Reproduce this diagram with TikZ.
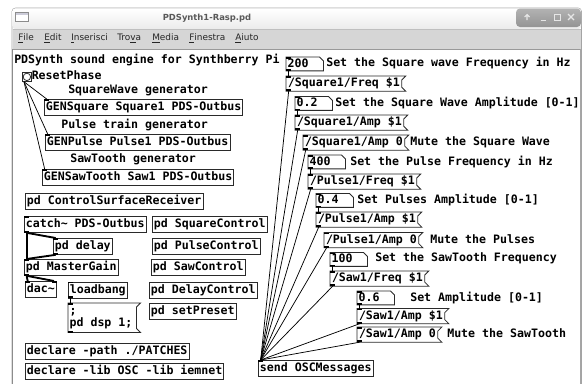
\documentclass[tikz,border=0pt]{standalone}
\usepackage{fontspec}
\newfontfamily\pdfont{DejaVu Sans Mono}
\newfontfamily\uifont{DejaVu Sans}
\definecolor{pdline}{HTML}{2A2A2A}
\definecolor{menubg}{HTML}{D6D6D6}
\definecolor{framec}{HTML}{A4A4A4}
\definecolor{btnbg}{HTML}{A2A2A2}
\definecolor{iconc}{HTML}{E6E6E6}
\newcommand\msgflag[1]{\draw[boxline] (#1.north west) -- ([xshift=3pt]#1.north east) -- ([yshift=-3pt]#1.north east) -- ([yshift=3pt]#1.south east) -- ([xshift=3pt]#1.south east) -- (#1.south west) -- cycle;}
\newcommand\numflag[1]{\draw[boxline] (#1.north west) -- ([xshift=-3pt]#1.north east) -- ([yshift=-3pt]#1.north east) -- (#1.south east) -- (#1.south west) -- cycle;}
\newcommand\pdin[1]{\fill[io] (#1.north west) rectangle ([xshift=3.8pt,yshift=-1.4pt]#1.north west);}
\newcommand\pdout[1]{\fill[io] (#1.south west) rectangle ([xshift=3.8pt,yshift=1.4pt]#1.south west);}
\begin{document}
\begin{tikzpicture}[x=0.75pt,y=-0.75pt,
  pdtext/.style={font=\pdfont\bfseries\fontsize{8.7}{10.4}\selectfont, text=black},
  boxline/.style={draw=pdline, line width=0.6pt},
  obj/.style={pdtext, boxline, anchor=north west, inner xsep=1.1pt, inner ysep=0pt, minimum height=12pt, text height=6.6pt, text depth=1.7pt},
  msg/.style={pdtext, anchor=north west, inner xsep=1.3pt, inner ysep=0pt, minimum height=11pt, text height=6.6pt, text depth=1.7pt},
  num/.style={pdtext, anchor=north west, inner xsep=1.1pt, inner ysep=0pt, minimum height=10pt, text width=25.5pt, align=left, text height=6.6pt, text depth=1.7pt},
  cmt/.style={pdtext, anchor=west, inner sep=0pt, text height=6.6pt, text depth=1.7pt},
  conn/.style={draw=black, line width=0.55pt},
  sig/.style={draw=black, line width=1.4pt},
  io/.style={fill=black},
  menu/.style={font=\uifont\fontsize{6.7}{8}\selectfont, text=black!85, anchor=west, inner sep=0pt}
]
\useasboundingbox (0,0) rectangle (586,383);
\clip (0,0) rectangle (586,383);
\fill[white] (0,0) rectangle (586,383);
% ---------- window chrome ----------
\draw[framec, fill=white, rounded corners=2.5pt] (12,8) rectangle (581.5,400);
\shade[top color=white, bottom color=black!8, rounded corners=2pt] (12.6,8.6) rectangle (581,29);
\fill[menubg] (12.6,29) rectangle (581,49);
\draw[black!25] (12.6,29) -- (581,29);
\draw[black!40] (12.6,49) -- (581,49);
\draw[black!45] (12.5,49) -- (12.5,400);
\draw[black!35] (580,49) -- (580,400);
% left icon
\draw[black!45, fill=white] (15,12) rectangle (28,21);
\fill[blue!25!black!20] (15.5,12.5) rectangle (27.5,15);
% title
\node[font=\uifont\bfseries\fontsize{6.3}{7.5}\selectfont, text=black!65, inner sep=0pt] (title) at (207,18.5) {PDSynth1-Rasp.pd};
% buttons
\shade[top color=black!30, bottom color=black!42, rounded corners=3pt] (516,8.5) rectangle (581,27);
\draw[iconc, line width=0.8pt] (527,20) -- (527,15) (524.5,17) -- (527,14.5) -- (529.5,17);
\draw[iconc, line width=1pt] (540.5,20.5) -- (545.5,20.5);
\draw[iconc, line width=0.7pt] (554,14) rectangle (560,20);
\draw[iconc, line width=0.9pt] (568,14) -- (574,20) (568,20) -- (574,14);
% menu
\node[menu] (mFile) at (18,38.5) {\underline{F}ile};
\node[menu] (mEdit) at (44,38.5) {\underline{E}dit};
\node[menu] (mIns) at (71,38.5) {\underline{I}nserisci};
\node[menu] (mTro) at (117,38.5) {Tro\underline{v}a};
\node[menu] (mMed) at (152,38.5) {\underline{M}edia};
\node[menu] (mFin) at (189,38.5) {\underline{F}inestra};
\node[menu] (mAiu) at (235,38.5) {\underline{A}iuto};
% ---------- left column ----------
\node[cmt] (head) at (14,60.5) {PDSynth sound engine for Synthberry Pi};
\node[boxline, minimum size=6.75pt, inner sep=0pt, anchor=north west] (bang) at (22,72) {};
\draw[boxline] (bang.center) circle (2.8pt);
\node[cmt] (reset) at (31.5,76.5) {ResetPhase};
\node[cmt] (c1) at (68,90.5) {SquareWave generator};
\node[obj] (gensq) at (44,99) {GENSquare Square1 PDS-Outbus};
\node[cmt] (c2) at (61,125) {Pulse train generator};
\node[obj] (genpu) at (45,134) {GENPulse Pulse1 PDS-Outbus};
\node[cmt] (c3) at (70,159.5) {SawTooth generator};
\node[obj] (gensa) at (42,169) {GENSawTooth Saw1 PDS-Outbus};
\node[obj] (csr) at (25,193) {pd ControlSurfaceReceiver};
\node[obj] (catch) at (24,216) {catch\textasciitilde{} PDS-Outbus};
\node[obj] (sqc) at (152,216) {pd SquareControl};
\node[obj] (delay) at (53,238) {pd delay};
\node[obj] (puc) at (152,238) {pd PulseControl};
\node[obj] (mg) at (24,259) {pd MasterGain};
\node[obj] (sac) at (151,259) {pd SawControl};
\node[obj] (dac) at (25,281) {dac\textasciitilde};
\node[obj] (lb) at (68,281.5) {loadbang};
\node[msg, minimum width=51pt, minimum height=21.75pt] (dsp) at (68,303) {};
\node[cmt] (dsp1) at (69.3,311.5) {;};
\node[cmt] (dsp2) at (69.3,323) {pd dsp 1;};
\node[obj] (dlc) at (149,282) {pd DelayControl};
\node[obj] (sp) at (149,303) {pd setPreset};
\node[obj] (decl1) at (25,342.5) {declare -path ./PATCHES};
\node[obj] (decl2) at (25,362.5) {declare -lib OSC -lib iemnet};
% ---------- right column ----------
\node[num] (n200) at (286,57) {200};
\node[cmt] (t200) at (326,63.5) {Set the Square wave Frequency in Hz};
\node[msg] (mSqF) at (286,76) {/Square1/Freq \$1};
\node[num] (n02) at (295,96.5) {0.2};
\node[cmt] (t02) at (335,103) {Set the Square Wave Amplitude [0-1]};
\node[msg] (mSqA) at (295,115) {/Square1/Amp \$1};
\node[msg] (mSq0) at (303,135) {/Square1/Amp 0};
\node[cmt] (tSq0) at (410,142.5) {Mute the Square Wave};
\node[num] (n400) at (308,155) {400};
\node[cmt] (t400) at (350,162) {Set the Pulse Frequency in Hz};
\node[msg] (mPuF) at (308,174) {/Pulse1/Freq \$1};
\node[num] (n04) at (316,193.5) {0.4};
\node[cmt] (t04) at (357,200) {Set Pulses Amplitude [0-1]};
\node[msg] (mPuA) at (316,212) {/Pulse1/Amp \$1};
\node[msg] (mPu0) at (324,232.5) {/Pulse1/Amp 0};
\node[cmt] (tPu0) at (430,240) {Mute the Pulses};
\node[num] (n100) at (330,252.5) {100};
\node[cmt] (t100) at (375,258.5) {Set the SawTooth Frequency};
\node[msg] (mSaF) at (330,271) {/Saw1/Freq \$1};
\node[num] (n06) at (357,291) {0.6};
\node[cmt] (t06) at (410,298) {Set Amplitude [0-1]};
\node[msg] (mSaA) at (357,308.5) {/Saw1/Amp \$1};
\node[msg] (mSa0) at (357,327) {/Saw1/Amp 0};
\node[cmt] (tSa0) at (447,334) {Mute the SawTooth};
\node[obj] (send) at (258,360) {send OSCMessages};
% ---------- box outlines ----------
\foreach \m in {mSqF,mSqA,mSq0,mPuF,mPuA,mPu0,mSaF,mSaA,mSa0,dsp} {\msgflag{\m}}
\foreach \n in {n200,n02,n400,n04,n100,n06} {\numflag{\n}}
% ---------- inlets / outlets ----------
\foreach \m in {mSqF,mSqA,mSq0,mPuF,mPuA,mPu0,mSaF,mSaA,mSa0,dsp,n200,n02,n400,n04,n100,n06} {\pdin{\m}\pdout{\m}}
\foreach \m in {gensq,genpu,gensa,catch,delay,mg,dac,lb,send} {\pdin{\m}}
\foreach \m in {catch,delay,mg,lb} {\pdout{\m}}
\fill[io] (dac.north east) rectangle ([xshift=-3.8pt,yshift=-1.4pt]dac.north east);
% ---------- connections ----------
\draw[conn] ([xshift=1.5pt]bang.south west) -- ([xshift=2pt]gensq.north west);
\draw[conn] ([xshift=1.5pt]bang.south west) -- ([xshift=2pt]genpu.north west);
\draw[conn] ([xshift=1.5pt]bang.south west) -- ([xshift=2pt]gensa.north west);
\draw[sig] ([xshift=2pt]catch.south west) -- ([xshift=2pt]delay.north west);
\draw[sig] ([xshift=2pt]catch.south west) -- ([xshift=2pt]mg.north west);
\draw[sig] ([xshift=2pt]delay.south west) -- ([xshift=2pt]mg.north west);
\draw[sig] ([xshift=2pt]mg.south west) -- ([xshift=2pt]dac.north west);
\draw[sig] ([xshift=2pt]mg.south west) -- ([xshift=-2pt]dac.north east);
\draw[conn] ([xshift=2pt]lb.south west) -- ([xshift=2pt]dsp.north west);
\foreach \a/\b in {n200/mSqF,n02/mSqA,n400/mPuF,n04/mPuA,n100/mSaF,n06/mSaA}
  {\draw[conn] ([xshift=2pt]\a.south west) -- ([xshift=2pt]\b.north west);}
\foreach \m in {mSqF,mSqA,mSq0,mPuF,mPuA,mPu0,mSaF,mSaA,mSa0}
  {\draw[conn] ([xshift=2pt]\m.south west) -- ([xshift=2pt]send.north west);}
\end{tikzpicture}
\end{document}
